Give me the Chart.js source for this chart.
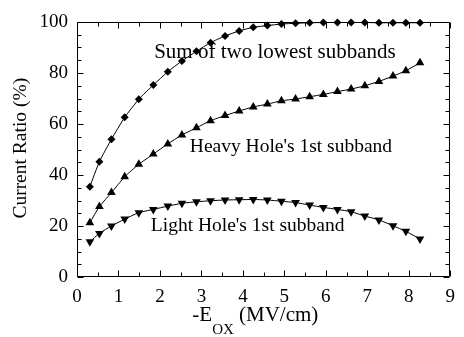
<!DOCTYPE html>
<html><head><meta charset="utf-8">
<script src="https://cdn.jsdelivr.net/npm/chart.js@4"></script>
<style>html,body{margin:0;padding:0;background:#fff}canvas{display:block}</style>
</head><body>
<canvas id="c" width="464" height="337"></canvas>
<script>
// -E_OX (MV/cm)
const fieldValues = [0.31,0.54,0.83,1.15,1.49,1.84,2.19,2.53,2.88,3.22,3.57,3.91,4.25,4.59,4.93,5.27,5.61,5.94,6.28,6.61,6.94,7.28,7.62,7.93,8.27];
// Current ratio (%)
const sumRatio   = [35.4,45.2,54.0,62.6,69.7,75.3,80.5,84.7,88.5,91.9,94.5,96.5,97.9,98.6,99.2,99.5,99.7,99.8,99.8,99.8,99.8,99.7,99.7,99.7,99.7];
const heavyRatio = [21.3,27.6,33.1,39.3,44.2,48.2,52.2,55.7,58.5,61.3,63.3,65.1,66.7,67.8,69.1,69.8,70.7,71.6,72.7,73.7,75.0,76.7,78.8,80.9,84.0];
const lightRatio = [13.8,17.1,20.0,22.7,25.2,26.5,27.8,28.9,29.5,29.9,30.2,30.3,30.4,30.2,29.7,29.2,28.2,27.3,26.5,25.6,23.9,22.4,20.1,17.9,14.9];
const seriesNames = ['Sum of two lowest subbands',"Heavy Hole's 1st subband","Light Hole's 1st subband"];
const xTickValues = [0,1,2,3,4,5,6,7,8,9];
const yTickValues = [0,20,40,60,80,100];
const yTitle = 'Current Ratio (%)';
const xTitleParts = ['-E','OX',' (MV/cm)'];
// label anchors in data units
const labelX = [1.86, 2.72, 1.78];
const labelY = [85.9, 49.1, 18.2];

const SERIF = '"Liberation Serif","Times New Roman",serif';
const toXY = (ys) => ys.map((v,i)=>({x:fieldValues[i], y:v}));

const decor = {
  id:'decor',
  afterDraw(chart){
    const {ctx, chartArea:a, scales:{x,y}} = chart;
    ctx.save();
    ctx.strokeStyle='#000'; ctx.lineWidth=1;
    const L=Math.round(a.left)+0.5, R=Math.round(a.right)-0.5, T=Math.round(a.top)+0.5, B=Math.round(a.bottom)-0.5;
    ctx.beginPath();
    ctx.rect(L,T,R-L,B-T);
    for(let v=0; v<=9.001; v+=0.5){
      const px=Math.round(x.getPixelForValue(v))+0.5;
      const len = (Math.abs(v-Math.round(v))<1e-6)?6:4;
      ctx.moveTo(px,B); ctx.lineTo(px,B-len);
      ctx.moveTo(px,T); ctx.lineTo(px,T+len);
    }
    for(let v=0; v<=100.001; v+=5){
      const py=Math.round(y.getPixelForValue(v))+0.5;
      const len = (v%20===0)?6:4;
      ctx.moveTo(L,py); ctx.lineTo(L+len,py);
      ctx.moveTo(R,py); ctx.lineTo(R-len,py);
    }
    ctx.stroke();
    ctx.fillStyle='#000';
    ctx.textBaseline='alphabetic'; ctx.textAlign='left';
    const sizes=[21,19.5,19.5];
    seriesNames.forEach((t,i)=>{
      ctx.font = sizes[i]+'px '+SERIF;
      ctx.fillText(t, x.getPixelForValue(labelX[i]), y.getPixelForValue(labelY[i]));
    });
    // x title with subscript
    const big='21px '+SERIF, small='15px '+SERIF;
    ctx.font=big; const w0=ctx.measureText(xTitleParts[0]).width, w2=ctx.measureText(xTitleParts[2]).width;
    ctx.font=small; const w1=ctx.measureText(xTitleParts[1]).width;
    const total=w0+w1+w2;
    let sx = x.getPixelForValue(4.3) - total/2;
    const base = 321;
    ctx.font=big; ctx.fillText(xTitleParts[0], sx, base); sx+=w0;
    ctx.font=small; ctx.fillText(xTitleParts[1], sx, base+13); sx+=w1;
    ctx.font=big; ctx.fillText(xTitleParts[2], sx, base);
    // y title
    ctx.save();
    ctx.translate(21, y.getPixelForValue(50.5));
    ctx.rotate(-Math.PI/2);
    ctx.font='19.5px '+SERIF; ctx.textAlign='center'; ctx.textBaseline='middle';
    ctx.fillText(yTitle, 0, 0);
    ctx.restore();
    ctx.restore();
  }
};

const common = {borderColor:'#000', backgroundColor:'#000', borderWidth:1, pointBorderWidth:0, tension:0.2, showLine:true, clip:false};
new Chart(document.getElementById('c'), {
  type:'scatter',
  data:{datasets:[
    {...common, label:seriesNames[0], data:toXY(sumRatio), pointStyle:'rectRot', pointRadius:4},
    {...common, label:seriesNames[1], data:toXY(heavyRatio), pointStyle:'triangle', pointRadius:5},
    {...common, label:seriesNames[2], data:toXY(lightRatio), pointStyle:'triangle', pointRotation:180, pointRadius:5},
  ]},
  options:{
    responsive:false, animation:false, devicePixelRatio:1,
    layout:{padding:{top:22,right:4,left:0,bottom:0}},
    plugins:{legend:{display:false}, tooltip:{enabled:false}},
    scales:{
      x:{type:'linear', min:0, max:9, border:{display:false}, grid:{display:false, drawTicks:false},
         afterBuildTicks:(s)=>{s.ticks=xTickValues.map(v=>({value:v}));},
         afterFit:(s)=>{s.height=60;},
         ticks:{color:'#000', padding:9, maxRotation:0, autoSkip:false, font:{family:SERIF,size:19}}},
      y:{type:'linear', min:0, max:100, border:{display:false}, grid:{display:false, drawTicks:false},
         afterBuildTicks:(s)=>{s.ticks=yTickValues.map(v=>({value:v}));},
         afterFit:(s)=>{s.width=77;},
         ticks:{color:'#000', padding:9, font:{family:SERIF,size:19}}}
    }
  },
  plugins:[decor]
});
</script>
</body></html>
